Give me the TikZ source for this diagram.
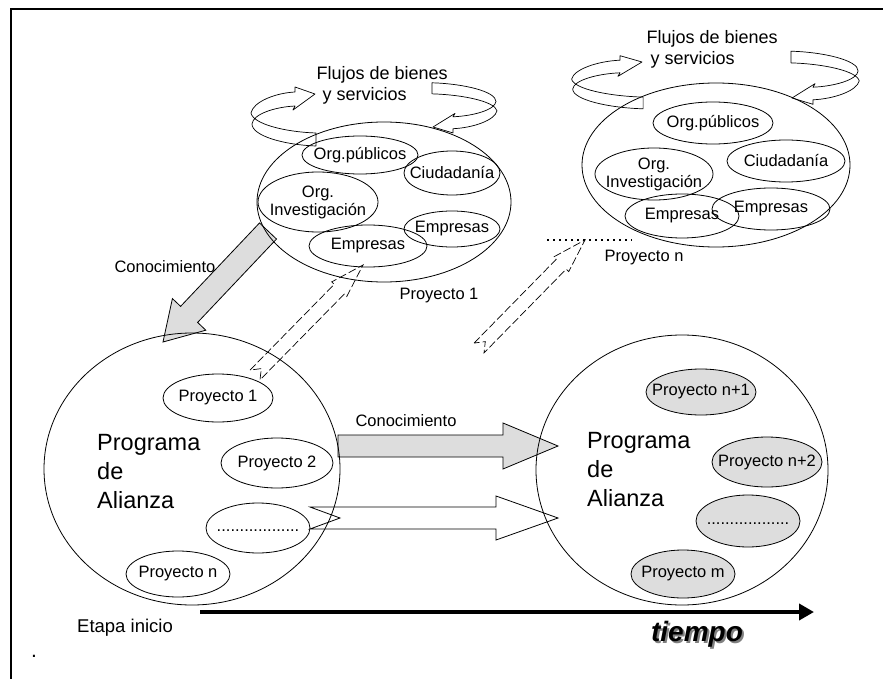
\documentclass[tikz,border=0pt]{standalone}
\usepackage{fontspec}
\setmainfont{Liberation Sans}
\usetikzlibrary{shapes.geometric,arrows.meta,calc}
\definecolor{grisclaro}{RGB}{221,221,221}

% flecha de bloque: cola, punta, semiancho, semiancho punta, largo punta, muesca, estilo
\newcommand{\flechabloque}[7]{%
  \coordinate (fb-base) at ($(#2)!#5pt!(#1)$);
  \coordinate (fb-muesca) at ($(#1)!#6pt!(#2)$);
  \draw[#7] ($(#1)!#3pt!90:(#2)$) -- ($(fb-base)!#3pt!90:(#2)$)
    -- ($(fb-base)!#4pt!90:(#2)$) -- (#2)
    -- ($(fb-base)!#4pt!-90:(#2)$) -- ($(fb-base)!#3pt!-90:(#2)$)
    -- ($(#1)!#3pt!-90:(#2)$) -- (fb-muesca) -- cycle;
}

\tikzset{
  contorno/.style={draw=black, line width=0.8pt},
  grupo/.style={ellipse, contorno, inner sep=0pt},
  ovalo/.style={ellipse, contorno, inner sep=-80pt, align=center,
    font=\fontsize{16.5}{18}\selectfont},
  ovalogris/.style={ovalo, fill=grisclaro},
  etiqueta/.style={inner sep=0pt, font=\fontsize{16.5}{19}\selectfont},
  flujo/.style={inner sep=0pt, align=left, font=\fontsize{18}{21}\selectfont},
  programa/.style={inner sep=0pt, align=left, font=\fontsize{23.5}{29}\selectfont},
  bloquegris/.style={contorno, fill=grisclaro},
  bloqueblanco/.style={contorno},
  bloquepunteado/.style={draw=black, line width=0.7pt, dash pattern=on 8pt off 3pt},
  giro/.pic={
    \draw[line width=0.7pt, line join=round]
      (0,0) -- (-20,-7) -- (-20,-2)
      .. controls (-40,-1) and (-62,8) .. (-64,19)
      .. controls (-62,30) and (-30,38) .. (1,39)
      -- (1,52)
      .. controls (-30,51) and (-63,42) .. (-63,30)
      .. controls (-62,20) and (-40,13) .. (-20,12)
      -- (-22,16) -- cycle;
  }
}

\begin{document}
\begin{tikzpicture}[x=1pt,y=-1pt]
  \useasboundingbox (0,0) rectangle (883,679);
  \draw[line width=2.5pt] (11,679) -- (11,9) -- (883,9);

  % flechas
  \coordinate (conoc1-cola) at (268,231);
  \coordinate (conoc1-punta) at (163,342);
  \flechabloque{conoc1-cola}{conoc1-punta}{11.7}{23}{38}{0}{bloquegris}
  \coordinate (conoc2-cola) at (338,446);
  \coordinate (conoc2-punta) at (558,446);
  \flechabloque{conoc2-cola}{conoc2-punta}{11}{23}{55}{0}{bloquegris}
  \coordinate (avance-cola) at (310,518);
  \coordinate (avance-punta) at (558,518);
  \flechabloque{avance-cola}{avance-punta}{11}{22}{62}{30}{bloqueblanco}
  \coordinate (ret1-cola) at (255,375);
  \coordinate (ret1-punta) at (363,265);
  \flechabloque{ret1-cola}{ret1-punta}{7}{10.5}{34}{9}{bloquepunteado}
  \coordinate (ret2-cola) at (479,348);
  \coordinate (ret2-punta) at (585,240);
  \flechabloque{ret2-cola}{ret2-punta}{7}{10.5}{34}{9}{bloquepunteado}

  % Proyecto 1
  \pic at (315,94) {giro};
  \pic[rotate=180,yscale=0.85] at (433,127) {giro};
  \node[flujo,anchor=west] (flujo1) at (316.5,85) {Flujos de bienes\\\hspace*{6pt}y servicios};
  \node[grupo,minimum width=254pt,minimum height=160pt] (grupo1) at (384,202) {};
  \node[ovalo,minimum width=116pt,minimum height=38pt] (op1) at (360,155) {Org.públicos};
  \node[ovalo,minimum width=96pt,minimum height=44pt] (ciu1) at (452,173) {Ciudadanía};
  \node[ovalo,minimum width=120pt,minimum height=60pt] (inv1) at (318,202) {Org.\\Investigación};
  \node[ovalo,minimum width=118pt,minimum height=42pt] (emp1a) at (368,246) {Empresas};
  \node[ovalo,minimum width=96pt,minimum height=36pt] (emp1b) at (452,229) {Empresas};
  \node[etiqueta] (etqproy1) at (439,296) {Proyecto 1};

  % Proyecto n
  \pic[xscale=1.1,yscale=0.9] at (642,62) {giro};
  \pic[rotate=180,xscale=1.05,yscale=0.9] at (792,98) {giro};
  \node[flujo,anchor=west] (flujo2) at (646.5,49.5) {Flujos de bienes\\\hspace*{4pt}y servicios};
  \node[grupo,minimum width=268pt,minimum height=164pt] (grupo2) at (716,165) {};
  \node[ovalo,minimum width=120pt,minimum height=42pt] (op2) at (713,123) {Org.públicos};
  \node[ovalo,minimum width=118pt,minimum height=42pt] (ciu2) at (786,161) {Ciudadanía};
  \node[ovalo,minimum width=118pt,minimum height=52pt] (inv2) at (654,174) {Org.\\Investigación};
  \node[ovalo,minimum width=114pt,minimum height=44pt] (emp2a) at (682,216) {Empresas};
  \node[ovalo,minimum width=118pt,minimum height=42pt] (emp2b) at (771,209) {Empresas};
  \coordinate (puntos-ini) at (547,240);
  \coordinate (puntos-fin) at (632,240);
  \draw[line width=1.6pt, dash pattern=on 1.6pt off 4.4pt] (puntos-ini) -- (puntos-fin);
  \node[etiqueta] (etqproyn) at (644,258) {Proyecto n};

  \node[etiqueta] (conoc1) at (165,267) {Conocimiento};
  \node[etiqueta] (conoc2) at (406,421) {Conocimiento};

  % programas
  \node[grupo,minimum width=296pt,minimum height=272pt] (prog1) at (192,469) {};
  \node[programa,anchor=west] (alianza1) at (97,471.5) {Programa\\de\\Alianza};
  \node[ovalo,minimum width=110pt,minimum height=48pt] (p1) at (218,398) {Proyecto 1};
  \node[ovalo,minimum width=112pt,minimum height=50pt] (p2) at (277,463) {Proyecto 2};
  \node[ovalo,minimum width=104pt,minimum height=50pt] (pd1) at (258,528) {\strut..................};
  \node[ovalo,minimum width=104pt,minimum height=46pt] (pn) at (178,574) {Proyecto n};

  \node[grupo,minimum width=292pt,minimum height=270pt] (prog2) at (682,470) {};
  \node[programa,anchor=west] (alianza2) at (587,470) {Programa\\de\\Alianza};
  \node[ovalogris,minimum width=110pt,minimum height=46pt] (pn1) at (701,392) {Proyecto n+1};
  \node[ovalogris,minimum width=110pt,minimum height=50pt] (pn2) at (767,462) {Proyecto n+2};
  \node[ovalogris,minimum width=104pt,minimum height=52pt] (pd2) at (748,521) {\strut..................};
  \node[ovalogris,minimum width=104pt,minimum height=48pt] (pm) at (683,574) {Proyecto m};

  % tiempo
  \coordinate (eje-ini) at (200,612);
  \coordinate (eje-fin) at (814,612);
  \draw[line width=4pt, -{Triangle[length=15pt,width=16pt]}] (eje-ini) -- (eje-fin);
  \node[etiqueta,font=\fontsize{18.5}{21}\selectfont] (etapa) at (125,628) {Etapa inicio};
  \node[inner sep=0pt,font=\fontsize{28}{32}\bfseries\itshape] (tiempo) at (697,635)
    {\rlap{\hspace{2pt}\raisebox{-2pt}{\textcolor{gray}{tiempo}}}tiempo};
  \node[inner sep=0pt,anchor=base,font=\fontsize{21}{24}\selectfont] (punto) at (34,657) {.};
\end{tikzpicture}
\end{document}
